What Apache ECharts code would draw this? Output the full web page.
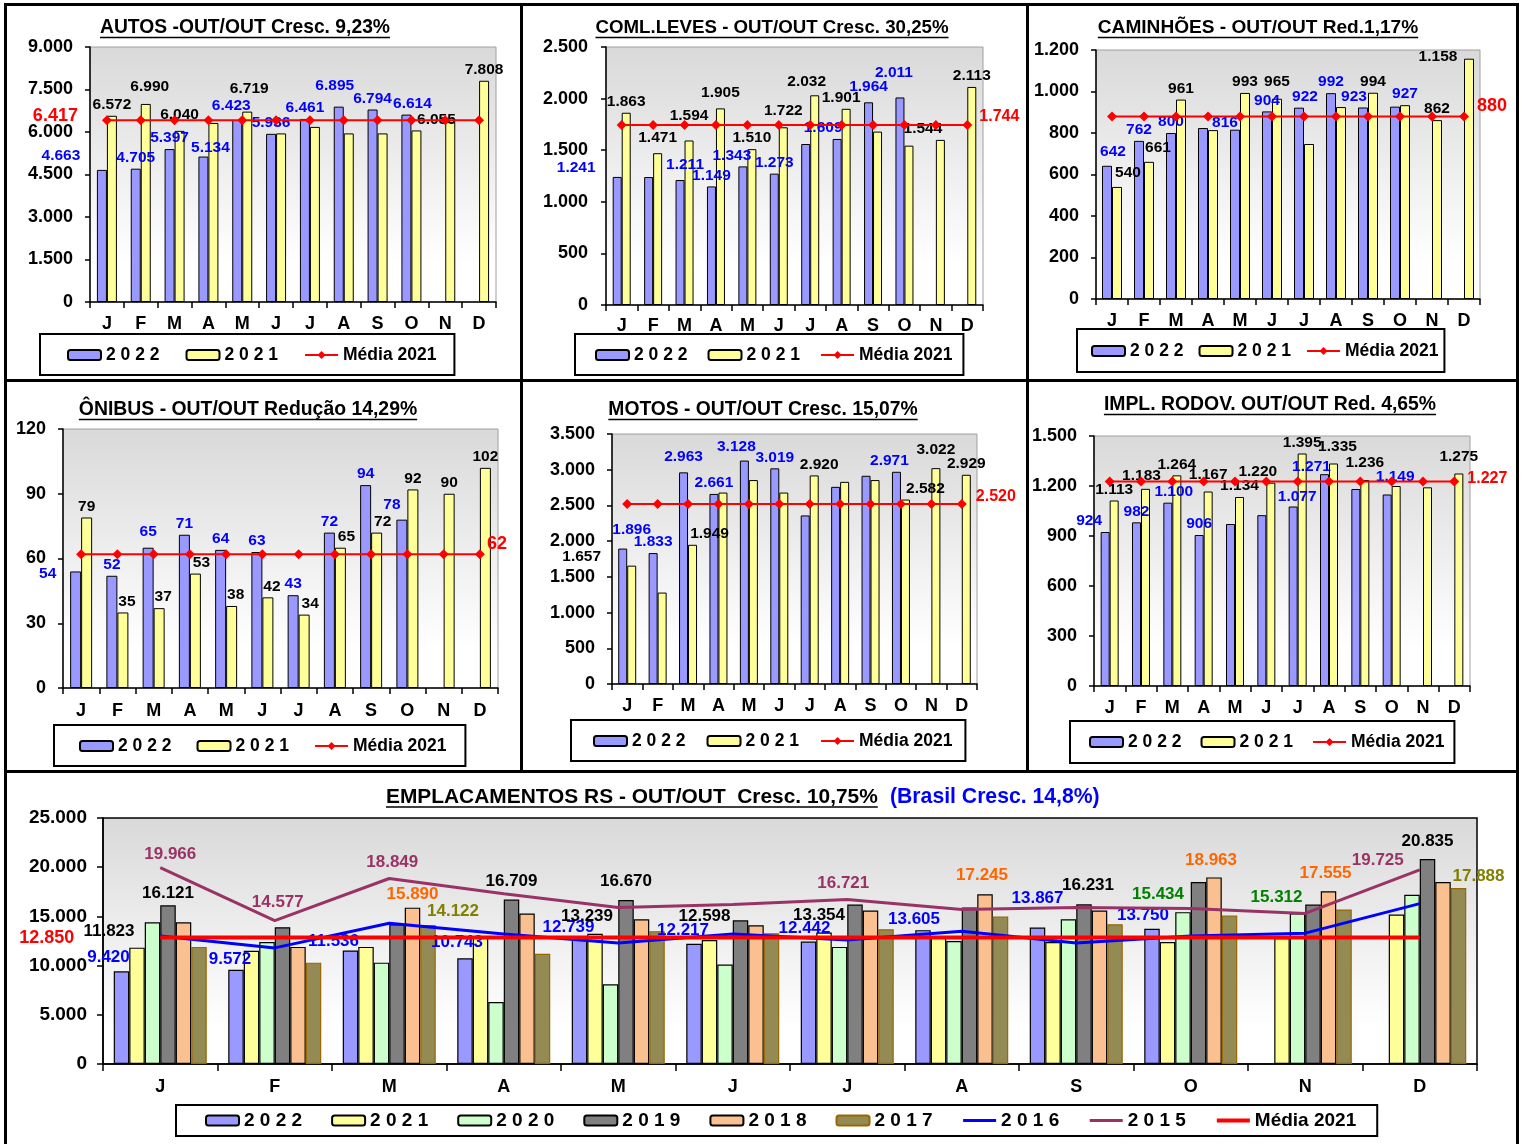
<!DOCTYPE html>
<html><head><meta charset="utf-8">
<script src="https://cdn.jsdelivr.net/npm/echarts@6/dist/echarts.min.js"></script>
<style>
html,body{margin:0;padding:0;background:#fff;}
#wrap{position:relative;width:1522px;height:1144px;overflow:hidden;background:#fff;}
.layer{position:absolute;left:0;top:0;width:1522px;height:1144px;}
</style></head><body><div id="wrap"></div>
<script>
const FONT = '"Liberation Sans", Arial, Helvetica, sans-serif';
const months = ['J','F','M','A','M','J','J','A','S','O','N','D'];
const legendSmall = ['2 0 2 2', '2 0 2 1', 'Média 2021'];

// ---- AUTOS ----
const autosTitle = 'AUTOS -OUT/OUT Cresc. 9,23%';
const autos2022 = [4663, 4705, 5397, 5134, 6423, 5936, 6461, 6895, 6794, 6614, null, null];
const autos2021 = [6572, 6990, 6040, 6320, 6719, 5950, 6180, 5950, 5950, 6055, 6350, 7808];
const autosMedia = [6417, 6417, 6417, 6417, 6417, 6417, 6417, 6417, 6417, 6417, 6417, 6417];
const autosTicks = [0, 9000, 1500];
const autosLab22 = [0,1,2,3,4,5,6,7,8,9];
const autosLab21 = [0,1,2,4,9,11];

// ---- COML.LEVES ----
const comlTitle = 'COML.LEVES - OUT/OUT Cresc. 30,25%';
const coml2022 = [1241, 1240, 1211, 1149, 1343, 1273, 1560, 1609, 1964, 2011, null, null];
const coml2021 = [1863, 1471, 1594, 1905, 1510, 1722, 2032, 1901, 1680, 1544, 1600, 2113];
const comlMedia = [1744, 1744, 1744, 1744, 1744, 1744, 1744, 1744, 1744, 1744, 1744, 1744];
const comlTicks = [0, 2500, 500];
const comlLab22 = [0,2,3,4,5,7,8,9];
const comlLab21 = [0,1,2,3,4,5,6,7,9,11];

// ---- CAMINHÕES ----
const camTitle = 'CAMINHÕES - OUT/OUT Red.1,17%';
const cam2022 = [642, 762, 800, 824, 816, 904, 922, 992, 923, 927, null, null];
const cam2021 = [540, 661, 961, 814, 993, 965, 747, 925, 994, 934, 862, 1158];
const camMedia = [880, 880, 880, 880, 880, 880, 880, 880, 880, 880, 880, 880];
const camTicks = [0, 1200, 200];
const camLab22 = [0,1,2,4,5,6,7,8,9];
const camLab21 = [0,1,2,4,5,8,10,11];

// ---- ÔNIBUS ----
const oniTitle = 'ÔNIBUS - OUT/OUT Redução 14,29%';
const oni2022 = [54, 52, 65, 71, 64, 63, 43, 72, 94, 78, null, null];
const oni2021 = [79, 35, 37, 53, 38, 42, 34, 65, 72, 92, 90, 102];
const oniMedia = [62, 62, 62, 62, 62, 62, 62, 62, 62, 62, 62, 62];
const oniTicks = [0, 120, 30];
const oniLab22 = [0,1,2,3,4,5,6,7,8,9];
const oniLab21 = [0,1,2,3,4,5,6,7,8,9,10,11];

// ---- MOTOS ----
const motTitle = 'MOTOS - OUT/OUT Cresc. 15,07%';
const mot2022 = [1896, 1833, 2963, 2661, 3128, 3019, 2360, 2760, 2915, 2971, null, null];
const mot2021 = [1657, 1280, 1949, 2680, 2855, 2680, 2920, 2830, 2855, 2582, 3022, 2929];
const motMedia = [2520, 2520, 2520, 2520, 2520, 2520, 2520, 2520, 2520, 2520, 2520, 2520];
const motTicks = [0, 3500, 500];
const motLab22 = [0,1,2,3,4,5,9];
const motLab21 = [0,2,6,9,10,11];

// ---- IMPL. RODOV. ----
const implTitle = 'IMPL. RODOV. OUT/OUT Red. 4,65%';
const impl2022 = [924, 982, 1100, 906, 972, 1025, 1077, 1271, 1182, 1149, null, null];
const impl2021 = [1113, 1183, 1264, 1167, 1134, 1220, 1395, 1335, 1236, 1200, 1192, 1275];
const implMedia = [1227, 1227, 1227, 1227, 1227, 1227, 1227, 1227, 1227, 1227, 1227, 1227];
const implTicks = [0, 1500, 300];
const implLab22 = [0,1,2,3,6,7,9];
const implLab21 = [0,1,2,3,4,5,6,7,8,11];

// ---- EMPLACAMENTOS RS ----
const empTitle = 'EMPLACAMENTOS RS - OUT/OUT  Cresc. 10,75%';
const empSubTitle = '(Brasil Cresc. 14,8%)';
const empNames = ['2 0 2 2', '2 0 2 1', '2 0 2 0', '2 0 1 9', '2 0 1 8', '2 0 1 7', '2 0 1 6', '2 0 1 5', 'Média 2021'];
const emp2022 = [9420, 9572, 11536, 10743, 12739, 12217, 12442, 13605, 13867, 13750, null, null];
const emp2021 = [11823, 11500, 11900, 12900, 13239, 12598, 13354, 12900, 12400, 12400, 12800, 15200];
const emp2020 = [14400, 12400, 10300, 6300, 8100, 10100, 11900, 12500, 14700, 15434, 15312, 17200];
const emp2019 = [16121, 13900, 14200, 16709, 16670, 14600, 16200, 15900, 16231, 18500, 16200, 20835];
const emp2018 = [14400, 11900, 15890, 15300, 14700, 14100, 15600, 17245, 15600, 18963, 17555, 18500];
const emp2017 = [11900, 10300, 14122, 11200, 13500, 13300, 13700, 15000, 14200, 15100, 15700, 17888];
const emp2016 = [13000, 11800, 14300, 13200, 12300, 13200, 12600, 13500, 12300, 13000, 13300, 16300];
const emp2015 = [19966, 14577, 18849, 17300, 15900, 16200, 16721, 15700, 15900, 15800, 15300, 19725];
const empMedia = [12850, 12850, 12850, 12850, 12850, 12850, 12850, 12850, 12850, 12850, 12850, 12850];
const empTicks = [0, 25000, 5000];
const empLab = {
  e2022: [0,1,2,3,4,5,6,7,8,9],
  e2021: [0,4,5,6],
  e2020: [9,10],
  e2019: [0,3,4,8,11],
  e2018: [2,7,9,10],
  e2017: [2,11],
  e2015: [0,1,2,6,11]
};

// ================= layout / style =================
const C22 = '#9999ff', C21 = '#ffff99';
const layouts = {
  autos: {grid:[90,47,496,302], title:[245,28,290], legend:[40,334], legendPad:[12,18,11,27], legendGap:26, barW:10,
          media:{side:'left', dist:24, font:18, off:[0,-4]}, yMargin:17, xMargin:13,
          n22:{0:[-41,-3],3:[7,2],4:[-6,-3],7:[-4,-10],9:[6,0]}, n21:{1:[4,-6],2:[0,-5],4:[2,-12],9:[20,0]}},
  coml: {grid:[606,47,983,305], title:[772,28,354], legend:[575,334], legendPad:[12,11,11,20], legendGap:20, barW:9,
          media:{side:'right', dist:7, font:16, off:[0,-8]}, yMargin:18, xMargin:12,
          n22:{0:[-41,2],2:[5,-4],4:[-11,0],7:[-14,0],8:[0,-5],9:[-6,-14]}, n21:{1:[0,-4],2:[0,-14],3:[0,-5],5:[0,-6],6:[-8,-3],7:[-5,0],9:[14,-6]}},
  cam:  {grid:[1096,50,1480,299], title:[1258,28,320], legend:[1077,329], legendPad:[13,6,12,14], legendGap:15, barW:10,
          media:{side:'right', dist:8, font:18, off:[0,-10]}, yMargin:17, xMargin:13,
          n22:{0:[6,-3],4:[-10,4],6:[6,0],8:[-9,0],9:[10,-2]}, n21:{0:[11,-3],1:[9,-3],5:[0,-6],11:[-31,9]}},
  oni:  {grid:[63,429,498,688], title:[248,410,338], legend:[54,725], legendPad:[12,19,11,25], legendGap:25, barW:11,
          media:{side:'right', dist:2, font:18, off:[0,-10]}, yMargin:17, xMargin:14,
          n22:{0:[-28,13],2:[0,-5],9:[-10,-4]}, n21:{1:[4,0],2:[4,0],3:[6,0],4:[4,0],5:[4,0],6:[6,0],7:[6,0],8:[6,0]}},
  mot:  {grid:[612,434,977,684], title:[763,410,309], legend:[571,720], legendPad:[12,13,11,22], legendGap:21, barW:9,
          media:{side:'right', dist:9, font:16, off:[0,-7]}, yMargin:17, xMargin:13,
          n22:{0:[9,-8],2:[0,-5],4:[-8,-3],9:[-7,0]}, n21:{0:[-50,2],2:[17,0],6:[5,0],9:[20,0],10:[0,-7]}},
  impl: {grid:[1094,436,1470,686], title:[1270,405,332], legend:[1070,721], legendPad:[12,10,12,19], legendGap:19, barW:9,
          media:{side:'right', dist:8, font:16, off:[0,-3]}, yMargin:17, xMargin:13,
          n22:{0:[-16,0],2:[6,0],6:[4,1],7:[-13,4],9:[8,-7]}, n21:{1:[-4,-2],3:[0,-6],5:[-13,0],7:[4,-6],8:[0,-6],11:[0,-6]}}
};
// bottom chart label offsets (full offsets per labelled item)
const empOffsets = {
  e2022: {0:[-13,0],1:[-6,3],2:[-17,4],3:[-8,-2],4:[-11,2],5:[-11,0],6:[-4,0],7:[-9,3],8:[0,-16],9:[-9,0]},
  e2021: {0:[-28,-3],4:[-8,-4],5:[-5,-10],6:[-5,-4]},
  e2020: {9:[-25,-4],10:[-21,-3]},
  e2019: {0:[0,1],3:[0,-5],4:[0,-5],8:[4,-5],11:[0,-4]},
  e2018: {2:[0,0],7:[-3,-5],9:[-3,-4],10:[-3,-4]},
  e2017: {2:[25,0],11:[20,2]},
  e2015: {0:[10,0],1:[3,-5],2:[3,-3],6:[-4,-3],11:[-42,4]}
};

function fmt(v){ if (v == null) return ''; return String(Math.round(v)).replace(/\B(?=(\d{3})+(?!\d))/g, '.'); }
const mctx = document.createElement('canvas').getContext('2d');
function textW(t, size){ mctx.font = 'bold ' + size + 'px ' + FONT; return mctx.measureText(t).width; }
function fitSize(t, target){ return Math.round(20 * target / textW(t, 20) * 10) / 10; }

function bgGrad(){
  return {type:'linear', x:0, y:0, x2:0, y2:1, colorStops:[{offset:0, color:'#d9d9d9'}, {offset:0.85, color:'#ffffff'}, {offset:1, color:'#ffffff'}]};
}

function makeLayer(){
  const el = document.createElement('div');
  el.className = 'layer';
  document.getElementById('wrap').appendChild(el);
  return echarts.init(el, null, {renderer:'canvas', width:1522, height:1144});
}

function titleGraphics(text, cx, cy, w){
  const size = fitSize(text, w);
  const tw = textW(text, size);
  return [
    {type:'text', x:cx, y:cy, silent:true, style:{text:text, fill:'#000', font:'bold ' + size + 'px ' + FONT, align:'center', verticalAlign:'middle'}},
    {type:'line', silent:true, shape:{x1:cx - tw/2, y1:cy + 9.5, x2:cx + tw/2, y2:cy + 9.5}, style:{stroke:'#000', lineWidth:1.5}}
  ];
}

function barData(vals, labeled, nudges){
  return vals.map((v, i) => {
    const it = {value: v, label: {show: v != null && labeled.indexOf(i) >= 0}};
    if (nudges && nudges[i]) it.label.offset = nudges[i];
    return it;
  });
}

function axisLabelStyle(size, margin){
  return {color:'#000', fontWeight:'bold', fontSize:size, fontFamily:FONT, margin:margin};
}

function smallChart(d, L, extraGraphic){
  const [gl, gt, gr, gb] = L.grid;
  const ch = makeLayer();
  const mIdx = L.media.side === 'left' ? 0 : 11;
  const mediaData = d.media.map((v, i) => {
    const it = {value: v};
    if (i === mIdx) it.label = {show:true, position:L.media.side, distance:L.media.dist, offset:L.media.off,
      color:'#ff0000', fontWeight:'bold', fontSize:L.media.font, fontFamily:FONT, formatter: p => fmt(p.value)};
    return it;
  });
  const labelBase = {show:true, position:'top', distance:3, fontWeight:'bold', fontSize:15.5, fontFamily:FONT, formatter: p => fmt(p.value)};
  ch.setOption({
    animation:false,
    textStyle:{fontFamily:FONT},
    graphic: titleGraphics(d.title, L.title[0], L.title[1], L.title[2]).concat(extraGraphic || []),
    grid:{left:gl, top:gt, width:gr-gl, height:gb-gt, show:true, backgroundColor:bgGrad(), borderColor:'#a0a0a0', borderWidth:1, containLabel:false, outerBoundsMode:'none'},
    legend:{left:L.legend[0], top:L.legend[1], orient:'horizontal', itemWidth:33, itemHeight:10, itemGap:L.legendGap,
      padding:L.legendPad, borderColor:'#000', borderWidth:2, selectedMode:false,
      textStyle:{fontSize:17.5, fontWeight:'bold', color:'#000', fontFamily:FONT}, data:legendSmall},
    xAxis:{type:'category', data:months, boundaryGap:true,
      axisLine:{show:true, lineStyle:{color:'#000', width:1.5}},
      axisTick:{show:true, interval:0, length:6, lineStyle:{color:'#000', width:1.5}},
      axisLabel:Object.assign({interval:0}, axisLabelStyle(18, L.xMargin)), splitLine:{show:false}},
    yAxis:{type:'value', min:d.ticks[0], max:d.ticks[1], interval:d.ticks[2],
      axisLine:{show:true, lineStyle:{color:'#000', width:1.5}},
      axisTick:{show:true, length:5, lineStyle:{color:'#000', width:1.5}},
      axisLabel:Object.assign({formatter: v => fmt(v)}, axisLabelStyle(18, L.yMargin)), splitLine:{show:false}},
    series:[
      {type:'bar', name:'2 0 2 2', barWidth:L.barW, barGap:'0%', silent:true,
        itemStyle:{color:C22, borderColor:'#000', borderWidth:1},
        label:Object.assign({color:'#0000ff'}, labelBase),
        data:barData(d.v22, d.lab22, L.n22)},
      {type:'bar', name:'2 0 2 1', barWidth:L.barW, barGap:'0%', silent:true,
        itemStyle:{color:C21, borderColor:'#000', borderWidth:1},
        label:Object.assign({color:'#000'}, labelBase),
        data:barData(d.v21, d.lab21, L.n21)},
      {type:'line', name:'Média 2021', symbol:'diamond', symbolSize:10, silent:true, z:5,
        lineStyle:{color:'#ff0000', width:2}, itemStyle:{color:'#ff0000'}, label:{show:false},
        data:mediaData}
    ]
  });
  return ch;
}

// panel frame lines
const frame = [
  {type:'rect', silent:true, shape:{x:4, y:3, width:1515, height:3}, style:{fill:'#000'}},
  {type:'rect', silent:true, shape:{x:4, y:379, width:1515, height:3}, style:{fill:'#000'}},
  {type:'rect', silent:true, shape:{x:4, y:770, width:1515, height:3}, style:{fill:'#000'}},
  {type:'rect', silent:true, shape:{x:4, y:3, width:3, height:1141}, style:{fill:'#000'}},
  {type:'rect', silent:true, shape:{x:1516, y:3, width:3, height:1141}, style:{fill:'#000'}},
  {type:'rect', silent:true, shape:{x:520, y:3, width:3, height:769}, style:{fill:'#000'}},
  {type:'rect', silent:true, shape:{x:1026, y:3, width:3, height:769}, style:{fill:'#000'}}
];

smallChart({title:autosTitle, v22:autos2022, v21:autos2021, media:autosMedia, ticks:autosTicks, lab22:autosLab22, lab21:autosLab21}, layouts.autos, frame);
smallChart({title:comlTitle, v22:coml2022, v21:coml2021, media:comlMedia, ticks:comlTicks, lab22:comlLab22, lab21:comlLab21}, layouts.coml);
smallChart({title:camTitle, v22:cam2022, v21:cam2021, media:camMedia, ticks:camTicks, lab22:camLab22, lab21:camLab21}, layouts.cam);
smallChart({title:oniTitle, v22:oni2022, v21:oni2021, media:oniMedia, ticks:oniTicks, lab22:oniLab22, lab21:oniLab21}, layouts.oni);
smallChart({title:motTitle, v22:mot2022, v21:mot2021, media:motMedia, ticks:motTicks, lab22:motLab22, lab21:motLab21}, layouts.mot);
smallChart({title:implTitle, v22:impl2022, v21:impl2021, media:implMedia, ticks:implTicks, lab22:implLab22, lab21:implLab21}, layouts.impl);

// ================= bottom chart =================
(function(){
  const G = [103, 818, 1477, 1064];
  const ch = makeLayer();
  const tSize = fitSize(empTitle, 492);
  const tw = textW(empTitle, tSize);
  const tx = 386, ty = 797;
  const lblBase = {position:'top', distance:5, fontWeight:'bold', fontSize:17, fontFamily:FONT, formatter: p => fmt(p.value)};
  function itemsWithLabels(vals, key){
    const lab = empLab[key] || [];
    const offs = empOffsets[key] || {};
    return vals.map((v, i) => {
      const it = {value:v, label:{show: v != null && lab.indexOf(i) >= 0}};
      if (offs[i]) it.label.offset = offs[i];
      return it;
    });
  }
  const barSpecs = [
    {key:'e2022', vals:emp2022, color:C22, border:'#000', lc:'#0000ff'},
    {key:'e2021', vals:emp2021, color:C21, border:'#000', lc:'#000'},
    {key:'e2020', vals:emp2020, color:'#ccffcc', border:'#000', lc:'#008000'},
    {key:'e2019', vals:emp2019, color:'#808080', border:'#000', lc:'#000'},
    {key:'e2018', vals:emp2018, color:'#fac090', border:'#000', lc:'#ff6600'},
    {key:'e2017', vals:emp2017, color:'#948a54', border:'#996600', lc:'#808000'}
  ];
  const series = barSpecs.map((b, k) => ({
    type:'bar', name:empNames[k], barWidth:15.5, barGap:'0%', silent:true,
    itemStyle:{color:b.color, borderColor:b.border, borderWidth:1.2},
    label:Object.assign({show:true, color:b.lc}, lblBase),
    data: itemsWithLabels(b.vals, b.key)
  }));
  series.push({type:'line', name:empNames[6], symbol:'circle', symbolSize:0.1, silent:true, z:6,
    lineStyle:{color:'#0000ff', width:3}, itemStyle:{color:'#0000ff'}, label:{show:false}, data:emp2016});
  series.push({type:'line', name:empNames[7], symbol:'circle', symbolSize:0.1, silent:true, z:7,
    lineStyle:{color:'#993366', width:3}, itemStyle:{color:'#993366'},
    label:Object.assign({show:true, color:'#993366'}, lblBase),
    data: itemsWithLabels(emp2015, 'e2015')});
  series.push({type:'line', name:empNames[8], symbol:'circle', symbolSize:0.1, silent:true, z:8,
    lineStyle:{color:'#ff0000', width:4}, itemStyle:{color:'#ff0000'}, label:{show:false},
    data: empMedia.map((v, i) => i === 0 ? {value:v, label:{show:true, position:'left', distance:86, color:'#ff0000', fontWeight:'bold', fontSize:18, fontFamily:FONT, formatter: p => fmt(p.value)}} : {value:v})});

  const legendLineW = {6:3, 7:3, 8:4};
  const legendData = empNames.map((n, k) => k >= 6 ? {name:n, itemStyle:{opacity:0}, lineStyle:{width:legendLineW[k]}} : {name:n});

  ch.setOption({
    animation:false,
    textStyle:{fontFamily:FONT},
    graphic:[
      {type:'text', x:tx, y:ty, silent:true, style:{text:empTitle, fill:'#000', font:'bold ' + tSize + 'px ' + FONT, align:'left', verticalAlign:'middle'}},
      {type:'line', silent:true, shape:{x1:tx, y1:ty + 10, x2:tx + tw, y2:ty + 10}, style:{stroke:'#000', lineWidth:1.5}},
      {type:'text', x:890, y:ty, silent:true, style:{text:empSubTitle, fill:'#0000ff', font:'bold ' + fitSize(empSubTitle, 210) + 'px ' + FONT, align:'left', verticalAlign:'middle'}}
    ],
    grid:{left:G[0], top:G[1], width:G[2]-G[0], height:G[3]-G[1], show:true, backgroundColor:bgGrad(), borderColor:'#000', borderWidth:1.5, containLabel:false, outerBoundsMode:'none'},
    legend:{left:176, top:1105, orient:'horizontal', itemWidth:33, itemHeight:10, itemGap:29,
      padding:[6,21,6,29], borderColor:'#000', borderWidth:2, backgroundColor:'#fff', selectedMode:false,
      textStyle:{fontSize:19, fontWeight:'bold', color:'#000', fontFamily:FONT}, data:legendData},
    xAxis:{type:'category', data:months, boundaryGap:true,
      axisLine:{show:true, lineStyle:{color:'#000', width:1.5}},
      axisTick:{show:true, interval:0, length:7, lineStyle:{color:'#000', width:1.5}},
      axisLabel:Object.assign({interval:0}, axisLabelStyle(18, 14)), splitLine:{show:false}},
    yAxis:{type:'value', min:empTicks[0], max:empTicks[1], interval:empTicks[2],
      axisLine:{show:true, lineStyle:{color:'#000', width:1.5}},
      axisTick:{show:true, length:6, lineStyle:{color:'#000', width:1.5}},
      axisLabel:Object.assign({formatter: v => fmt(v)}, axisLabelStyle(19, 16)), splitLine:{show:false}},
    series: series
  });
})();
</script>
</body></html>
